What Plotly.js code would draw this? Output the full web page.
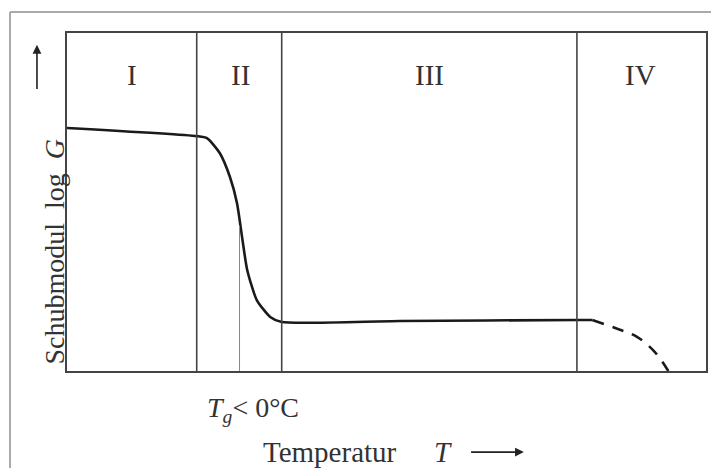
<!DOCTYPE html>
<html>
<head>
<meta charset="utf-8">
<script src="https://cdn.plot.ly/plotly-3.0.1.min.js"></script>
<style>html,body{margin:0;padding:0;background:#fff;}#chart{width:711px;height:468px;}</style>
</head>
<body>
<div id="chart"></div>
<script>
// Shear modulus curve (arbitrary units, x: temperature 0-100, y: log G 0-100)
var curveX = [0, 20.3, 21.9, 23.9, 25.5, 26.6, 27.4, 28.2, 29.7, 31.8, 33.6, 52.1, 80.0, 82.2];
var curveY = [71.9, 69.5, 68.9, 64.5, 57.4, 49.7, 39.6, 29.9, 21.0, 16.0, 14.5, 14.8, 15.1, 15.1];
var dashX = [82.2, 85.8, 89.2, 92.0, 94.1];
var dashY = [15.1, 12.7, 10.1, 5.6, 0];
var regionBounds = [20.3, 33.6, 79.8];
var tgLine = 27.0;
var tgLineTop = 43;
var regionLabels = ['I', 'II', 'III', 'IV'];
var regionLabelX = [10.2, 27.1, 56.8, 89.7];
var regionLabelY = 87.6;

var serif = '"Liberation Serif", "DejaVu Serif", serif';
var traces = [
  {x: curveX, y: curveY, mode: 'lines', line: {color: '#1a1a1a', width: 2.6, shape: 'spline', smoothing: 0.6}, hoverinfo: 'skip'},
  {x: dashX, y: dashY, mode: 'lines', line: {color: '#1a1a1a', width: 2.6, dash: '12px,9px', shape: 'spline'}, hoverinfo: 'skip', cliponaxis: false}
];

var shapes = [];
regionBounds.forEach(function (b) {
  shapes.push({type: 'line', xref: 'x', yref: 'paper', x0: b, x1: b, y0: 0, y1: 1, line: {color: '#444', width: 1.6}});
});
shapes.push({type: 'line', xref: 'x', yref: 'y', x0: tgLine, x1: tgLine, y0: 0, y1: tgLineTop, line: {color: '#888', width: 1}});
// outer grey frame of the picture
shapes.push({type: 'line', xref: 'paper', yref: 'paper', x0: -0.0892, x1: -0.0892, y0: 1.062, y1: -0.3, line: {color: '#aaa', width: 2}});
shapes.push({type: 'line', xref: 'paper', yref: 'paper', x0: -0.0892, x1: 1.01, y0: 1.062, y1: 1.062, line: {color: '#aaa', width: 2}});

var annotations = regionLabels.map(function (t, i) {
  return {x: regionLabelX[i], y: regionLabelY, xref: 'x', yref: 'y', text: t, showarrow: false,
          font: {family: serif, size: 29, color: '#333'}};
});
annotations.push({xref: 'paper', yref: 'paper', x: -0.047, y: 0.355, yanchor: 'middle', text: 'Schubmodul  log  <i>G</i>', textangle: -90,
  showarrow: false, font: {family: serif, size: 28, color: '#333'}});
// y arrow
annotations.push({xref: 'paper', yref: 'paper', x: -0.047, y: 0.965, ax: -0.047, ay: 0.83, axref: 'paper', ayref: 'paper',
  showarrow: true, arrowhead: 2, arrowsize: 1.1, arrowwidth: 1.6, arrowcolor: '#222', text: ''});
annotations.push({xref: 'paper', yref: 'paper', x: 0.216, y: -0.115, yanchor: 'middle', text: '<i>T</i><sub><i>g</i></sub>&lt; 0°C', showarrow: false,
  font: {family: serif, size: 28, color: '#333'}});
annotations.push({xref: 'paper', yref: 'paper', x: 0.411, y: -0.24, yanchor: 'middle', text: 'Temperatur', showarrow: false,
  font: {family: serif, size: 29, color: '#333'}});
annotations.push({xref: 'paper', yref: 'paper', x: 0.588, y: -0.24, yanchor: 'middle', text: '<i>T</i>', showarrow: false,
  font: {family: serif, size: 29, color: '#333'}});
annotations.push({xref: 'paper', yref: 'paper', x: 0.715, y: -0.24, ax: 0.63, ay: -0.24, axref: 'paper', ayref: 'paper',
  showarrow: true, arrowhead: 2, arrowsize: 1.1, arrowwidth: 1.6, arrowcolor: '#222', text: ''});

var layout = {
  width: 711, height: 468,
  margin: {l: 67, r: 5, t: 33, b: 97},
  paper_bgcolor: '#fff', plot_bgcolor: '#fff',
  showlegend: false,
  xaxis: {range: [0, 100], showgrid: false, zeroline: false, showticklabels: false, ticks: '',
          showline: true, mirror: true, linecolor: '#444', linewidth: 2},
  yaxis: {range: [0, 100], showgrid: false, zeroline: false, showticklabels: false, ticks: '',
          showline: true, mirror: true, linecolor: '#444', linewidth: 2},
  shapes: shapes,
  annotations: annotations
};
Plotly.newPlot('chart', traces, layout, {displayModeBar: false, staticPlot: true});
</script>
</body>
</html>
